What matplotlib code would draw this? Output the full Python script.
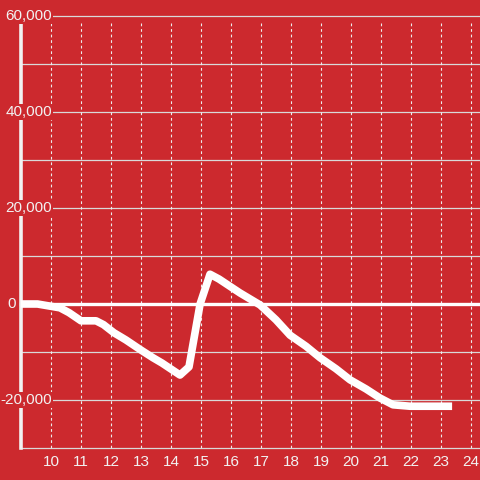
import matplotlib
matplotlib.use("Agg")
import matplotlib.pyplot as plt
from matplotlib.transforms import blended_transform_factory

plt.rcParams["font.family"] = ["Liberation Sans", "DejaVu Sans"]

# hours and value
hours = [9.0, 9.55, 10.3, 10.6, 11.0, 11.5, 11.75, 12.1, 12.5, 13.0, 13.4,
         13.7, 14.3, 14.6, 14.97, 15.3, 15.6, 16.3, 16.97, 17.5, 17.97,
         18.5, 18.97, 19.5, 19.97, 20.5, 20.97, 21.4, 21.97, 22.5, 23.37]
values = [0, 0, -800, -1800, -3500, -3500, -4300, -6000, -7500, -9600, -11200,
          -12300, -14800, -13100, 0, 6200, 5200, 2300, -200, -3300, -6500,
          -8800, -11200, -13500, -15800, -17700, -19600, -21000, -21300,
          -21300, -21300]

yticks_major = [-20000, 0, 20000, 40000, 60000]
yticks_minor = [-30000, -10000, 10000, 30000, 50000]
xticks = list(range(10, 25))

bg = "#cc292e"
fg = "#f2f2f2"

fig = plt.figure(figsize=(4.8, 4.8), dpi=100, facecolor=bg)
ax = fig.add_axes([21 / 480, 32 / 480, 459 / 480, 432 / 480])
ax.set_facecolor(bg)
ax.set_xlim(9, 9 + 459 / 30)
ax.set_ylim(-30000, 60000)

for y in yticks_major + yticks_minor:
    if y == 0:
        continue
    ax.axhline(y, color="#d9d9d9", lw=0.9, zorder=1, clip_on=False)
ax.vlines(xticks, -30000, 58500, colors="#ececec", lw=0.8,
          linestyles=(0, (2.5, 2.5)), zorder=1)
ax.plot([9, 24.4], [0, 0], color="white", lw=2.4, zorder=2, clip_on=False)

ax.plot(hours, values, color="white", lw=5.5, solid_capstyle="butt",
        solid_joinstyle="round", zorder=3)

for s in ["top", "right", "bottom"]:
    ax.spines[s].set_visible(False)
ax.spines["left"].set_color(fg)
ax.spines["left"].set_linewidth(2.6)
ax.spines["left"].set_zorder(2)

ax.set_xticks(xticks)
ax.set_xticklabels([str(x) for x in xticks])
ax.set_yticks([])
ax.tick_params(axis="x", length=0, pad=5, labelsize=11, colors=fg)

label_tr = blended_transform_factory(fig.transFigure, ax.transData)
for y in yticks_major:
    # the zero label sits left of the axis line, the others straddle it
    xr = 16 if y == 0 else 52
    ax.text(xr / 480, y, f"{y:,}", ha="right", va="center", fontsize=11,
            color=fg, zorder=4, transform=label_tr, clip_on=False,
            bbox=dict(facecolor=bg, edgecolor="none", pad=1.0))

fig.savefig("out.png", dpi=100, facecolor=bg)
